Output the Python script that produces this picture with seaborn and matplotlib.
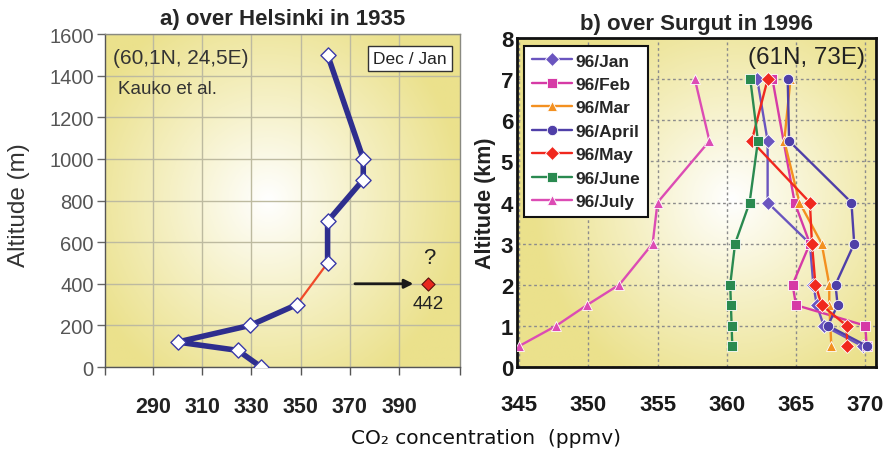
import matplotlib
matplotlib.use("Agg")
import matplotlib.pyplot as plt
from matplotlib.colors import LinearSegmentedColormap
import seaborn as sns
import numpy as np
import pandas as pd

# a) Helsinki 1935 (Kauko et al.)
hel_alt = [0, 80, 120, 200, 300, 500, 700, 900, 1000, 1500]
hel_co2 = [334, 324.5, 300, 329.5, 348.5, 361, 361, 375.5, 375.5, 361]
hel_out_alt = 400
hel_out_x = 402  # drawn at the axis edge, real value 442
hel_out_label = "442"
hel_xticks = [290, 310, 330, 350, 370, 390]
hel_yticks = [0, 200, 400, 600, 800, 1000, 1200, 1400, 1600]

# b) Surgut 1996
months = ["96/Jan", "96/Feb", "96/Mar", "96/April", "96/May", "96/June", "96/July"]
jan_alt = [0.5, 1, 1.5, 2, 3, 4, 5.5, 7]
jan_co2 = [369.8, 367.0, 366.5, 366.25, 366.0, 362.95, 362.95, 362.2]
feb_alt = [0.5, 1, 1.5, 2, 3, 4, 7]
feb_co2 = [370.1, 370.0, 365.0, 364.75, 366.0, 364.9, 363.3]
mar_alt = [0.5, 1.5, 2, 3, 4, 5.5, 7]
mar_co2 = [367.55, 367.4, 367.4, 366.85, 365.25, 364.15, 364.6]
apr_alt = [0.5, 1, 1.5, 2, 3, 4, 5.5, 7]
apr_co2 = [370.15, 367.3, 368.0, 367.85, 369.2, 369.0, 364.5, 364.4]
may_alt = [0.5, 1, 1.5, 2, 3, 4, 5.5, 7]
may_co2 = [368.7, 368.65, 366.85, 366.4, 366.15, 366.0, 361.8, 362.95]
jun_alt = [0.5, 1, 1.5, 2, 3, 4, 5.5, 7]
jun_co2 = [360.4, 360.35, 360.3, 360.25, 360.6, 361.65, 362.25, 361.7]
jul_alt = [0.5, 1, 1.5, 2, 3, 4, 5.5, 7]
jul_co2 = [345.0, 347.7, 349.9, 352.25, 354.65, 355.0, 358.75, 357.7]
sur_xticks = [345, 350, 355, 360, 365, 370]
sur_yticks = [0, 1, 2, 3, 4, 5, 6, 7, 8]

palette = {"96/Jan": "#6a55bf", "96/Feb": "#d63aa6", "96/Mar": "#f39020",
           "96/April": "#4f3fa8", "96/May": "#f0281e", "96/June": "#2a8a50",
           "96/July": "#dc4cb4"}
markers = {"96/Jan": "D", "96/Feb": "s", "96/Mar": "^", "96/April": "o",
           "96/May": "D", "96/June": "s", "96/July": "^"}

sns.set_theme(style="white")
plt.rcParams['font.family'] = ['Liberation Sans', 'DejaVu Sans']

navy = "#2e2e8e"
glow_cmap = LinearSegmentedColormap.from_list("glow", ["#ffffff", "#f5f0c4", "#ebe18c"])


def add_glow(ax, cx, cy):
    yy, xx = np.mgrid[0:1:300j, 0:1:300j]
    r = np.sqrt(((xx - cx) / 0.62) ** 2 + ((yy - cy) / 0.7) ** 2)
    ax.imshow(r, cmap=glow_cmap, vmin=0, vmax=0.9, extent=[0, 1, 0, 1],
              transform=ax.transAxes, origin="lower", aspect="auto", zorder=0)


fig = plt.figure(figsize=(8.91, 4.52), dpi=100)
ax1 = fig.add_axes([0.1178, 0.1858, 0.3984, 0.7367])
ax2 = fig.add_axes([0.5806, 0.1865, 0.4022, 0.7265])

# ---------- panel a ----------
add_glow(ax1, 0.46, 0.5)
sns.lineplot(x=hel_co2[:5], y=hel_alt[:5], sort=False, estimator=None,
             color=navy, lw=4, ax=ax1, zorder=3)
sns.lineplot(x=hel_co2[4:6], y=hel_alt[4:6], sort=False, estimator=None,
             color="#f04a2a", lw=1.6, ax=ax1, zorder=3)
sns.lineplot(x=hel_co2[5:], y=hel_alt[5:], sort=False, estimator=None,
             color=navy, lw=4, ax=ax1, zorder=3)
sns.scatterplot(x=hel_co2, y=hel_alt, marker="D", s=60, facecolor="white",
                edgecolor="#3a3aa8", linewidth=1.0, ax=ax1, zorder=4)
sns.scatterplot(x=[hel_out_x], y=[hel_out_alt], marker="D", s=45, color="#e8281e",
                edgecolor="#5a1010", linewidth=0.8, ax=ax1, zorder=4)
ax1.annotate("", xy=(hel_out_x - 5, hel_out_alt), xytext=(371, hel_out_alt),
             arrowprops=dict(arrowstyle="-|>", color="#1a1a1a", lw=2, mutation_scale=13),
             zorder=4)
ax1.text(hel_out_x + 0.5, hel_out_alt + 125, "?", ha="center", va="center",
         fontsize=16, color="#222")
ax1.text(hel_out_x, hel_out_alt - 95, hel_out_label, ha="center", va="center",
         fontsize=13.5, color="#222")

ax1.set_xlim(270.5, 414.8)
ax1.set_ylim(0, 1600)
ax1.set_xticks(hel_xticks)
ax1.set_xticks([270.5, 414.8], minor=True)
ax1.set_yticks(hel_yticks)
ax1.grid(True, which="major", color="#bdbaa0", lw=1)
ax1.set_axisbelow(True)
ax1.tick_params(axis="y", which="major", direction="out", length=6, width=1,
                color="#666", labelcolor="#555", labelsize=14.5, pad=2, left=True)
ax1.tick_params(axis="x", which="both", direction="out", length=6, width=1,
                color="#555", labelsize=15.5, pad=15, bottom=True)
for lab in ax1.get_xticklabels():
    lab.set_fontweight("bold")
    lab.set_color("#222")
for sp in ax1.spines.values():
    sp.set_color("#8a8a80")
    sp.set_linewidth(1)
ax1.spines["left"].set_color("#555")
ax1.spines["bottom"].set_color("#555")
ax1.set_ylabel("Altitude (m)", fontsize=17.5, color="#333")
ax1.yaxis.set_label_coords(-0.212, 0.49)
ax1.set_xlabel("")
ax1.set_title("a) over Helsinki in 1935", fontsize=16, fontweight="bold", pad=7)
ax1.text(0.023, 0.93, "(60,1N, 24,5E)", transform=ax1.transAxes, fontsize=15,
         color="#333", va="center", ha="left")
ax1.text(0.037, 0.835, "Kauko et al.", transform=ax1.transAxes, fontsize=13.5,
         color="#333", va="center", ha="left")
ax1.text(0.86, 0.926, "Dec / Jan", transform=ax1.transAxes, fontsize=12.5,
         color="#222", va="center", ha="center",
         bbox=dict(boxstyle="square,pad=0.3", fc="white", ec="#333", lw=1))

# ---------- panel b ----------
add_glow(ax2, 0.6, 0.51)
frames = []
for m, a, c in zip(months,
                   [jan_alt, feb_alt, mar_alt, apr_alt, may_alt, jun_alt, jul_alt],
                   [jan_co2, feb_co2, mar_co2, apr_co2, may_co2, jun_co2, jul_co2]):
    frames.append(pd.DataFrame({"month": m, "alt": a, "co2": c}))
sur = pd.concat(frames, ignore_index=True)

sns.lineplot(data=sur, x="co2", y="alt", hue="month", style="month",
             hue_order=months, style_order=months, palette=palette,
             markers=markers, dashes=False, sort=False, estimator=None,
             lw=1.7, markersize=7.5, markeredgewidth=0.6, ax=ax2, zorder=3)

ax2.set_xlim(344.88, 370.75)
ax2.set_ylim(0, 8)
ax2.set_xticks(sur_xticks)
ax2.set_yticks(sur_yticks)
ax2.grid(True, color="#8c8c8c", linestyle=(0, (2, 2)), lw=1)
ax2.set_axisbelow(True)
ax2.tick_params(axis="both", length=0, labelsize=16)
ax2.tick_params(axis="x", pad=20)
ax2.tick_params(axis="y", pad=3)
for lab in ax2.get_xticklabels() + ax2.get_yticklabels():
    lab.set_fontweight("bold")
    lab.set_color("#1a1a1a")
for sp in ax2.spines.values():
    sp.set_color("#111")
    sp.set_linewidth(2)
ax2.set_xlabel("")
ax2.set_ylabel("Altitude (km)", fontsize=15.5, fontweight="bold", color="#222")
ax2.yaxis.set_label_coords(-0.06, 0.5)
ax2.set_title("b) over Surgut in 1996", fontsize=16, fontweight="bold", pad=7)
ax2.text(0.97, 0.943, "(61N, 73E)", transform=ax2.transAxes, fontsize=17.5,
         color="#222", va="center", ha="right")

handles, labels = ax2.get_legend_handles_labels()
leg = ax2.legend(handles, labels, loc="upper left", bbox_to_anchor=(0.02, 0.978),
                 borderaxespad=0, frameon=True, fancybox=False,
                 edgecolor="#111", facecolor="white", framealpha=1,
                 handlelength=2.3, labelspacing=0.48, borderpad=0.45,
                 handletextpad=0.2, prop={"weight": "bold", "size": 12.5})
leg.get_frame().set_linewidth(1.5)

fig.text(0.545, 0.029, "CO\u2082 concentration  (ppmv)", ha="center", va="center",
         fontsize=14.5, color="#111", family=["DejaVu Sans"])

fig.savefig("out.png", dpi=100)
